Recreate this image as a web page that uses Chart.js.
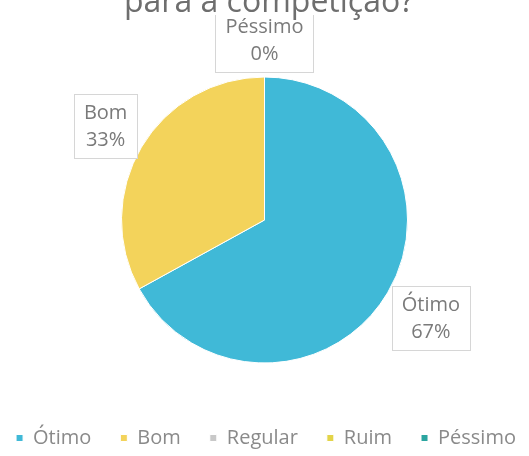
<!DOCTYPE html>
<html>
<head>
<meta charset="utf-8">
<script src="https://cdn.jsdelivr.net/npm/chart.js@4/dist/chart.umd.min.js"></script>
<style>
  html, body { margin: 0; padding: 0; background: #ffffff; overflow: hidden; }
  #wrap { position: relative; width: 529px; height: 456px; }
  #title { position: absolute; left: 120px; width: 298px; top: -16px; height: 31px; text-align: center;
           background: #ffffff; overflow: visible;
           font-family: "Open Sans", sans-serif; font-size: 32px; line-height: 32px; color: #6e6e6e; white-space: nowrap; }
  canvas { position: absolute; left: 0; top: 0; }
</style>
</head>
<body>
<div id="wrap">
  <canvas id="c" width="529" height="456"></canvas>
  <div id="title">para a competição?</div>
</div>
<script>
const categories = ['Ótimo', 'Bom', 'Regular', 'Ruim', 'Péssimo'];
const values = [67, 33, 0, 0, 0];
const colors = ['#40B9D7', '#F3D35B', '#C8C8C8', '#E3D448', '#2BA5A0'];

const labelPlugin = {
  id: 'outLabels',
  afterDatasetsDraw(chart) {
    const ctx = chart.ctx;
    const meta = chart.getDatasetMeta(0);
    const data = chart.data.datasets[0].data;
    const total = data.reduce((a, b) => a + b, 0);
    ctx.save();
    ctx.font = '20px "Open Sans", sans-serif';
    ctx.textAlign = 'center';
    ctx.textBaseline = 'middle';
    meta.data.forEach((arc, i) => {
      const p = arc.getProps(['x', 'y', 'startAngle', 'endAngle', 'outerRadius'], true);
      const mid = (p.startAngle + p.endAngle) / 2;
      const line1 = chart.data.labels[i];
      const line2 = Math.round(data[i] / total * 100) + '%';
      const w = Math.round(Math.max(ctx.measureText(line1).width, ctx.measureText(line2).width) + 20);
      const h = 64;
      const c = Math.cos(mid), s = Math.sin(mid);
      const ext = Math.min(Math.abs(c) > 1e-6 ? (w / 2) / Math.abs(c) : Infinity,
                           Math.abs(s) > 1e-6 ? (h / 2) / Math.abs(s) : Infinity);
      const d = p.outerRadius + 5 + ext;
      const cx = p.x + c * d;
      const cy = p.y + s * d;
      const bx = Math.round(cx - w / 2) + 0.5, by = Math.round(cy - h / 2) + 0.5;
      ctx.fillStyle = '#ffffff';
      ctx.fillRect(bx, by, w, h);
      ctx.strokeStyle = '#d6d6d6';
      ctx.lineWidth = 1;
      ctx.strokeRect(bx, by, w, h);
      ctx.fillStyle = '#7a7a7a';
      ctx.fillText(line1, cx, cy - 13);
      ctx.fillText(line2, cx, cy + 14);
    });
    ctx.restore();
  }
};

new Chart(document.getElementById('c'), {
  type: 'pie',
  data: {
    labels: categories,
    datasets: [{
      data: values,
      backgroundColor: colors,
      borderColor: '#ffffff',
      borderWidth: 1,
      radius: 143
    }]
  },
  options: {
    responsive: false,
    animation: false,
    layout: { padding: { top: 41, left: -17, right: -20, bottom: -2 } },
    plugins: {
      tooltip: { enabled: false },
      title: { display: false },
      legend: {
        position: 'bottom',
        labels: {
          boxWidth: 7,
          boxHeight: 7,
          padding: 29,
          color: '#8a8a8a',
          font: { family: '"Open Sans", sans-serif', size: 20 }
        }
      }
    }
  },
  plugins: [labelPlugin]
});
</script>
</body>
</html>
